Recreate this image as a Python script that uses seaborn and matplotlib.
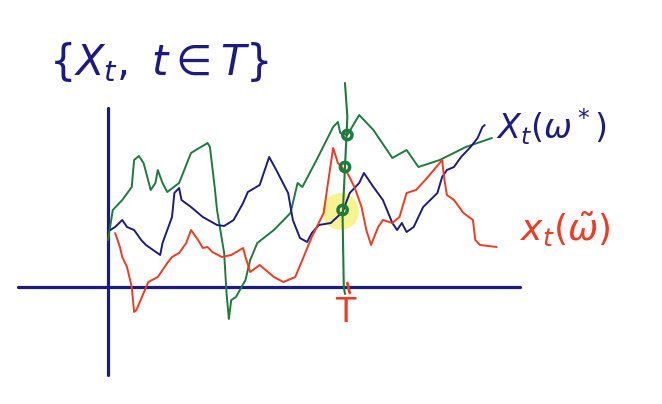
import numpy as np
import pandas as pd
import matplotlib
matplotlib.use("Agg")
import matplotlib.pyplot as plt
import seaborn as sns

# Farben wie in der Skizze
NAVY = "#1c1c80"
GREEN = "#1f7a3c"
RED = "#ee3b24"
YELLOW = "#f6f27e"

green_t = [0.00, 0.02, 0.06, 0.10, 0.11, 0.13, 0.15, 0.18, 0.20, 0.21, 0.23, 0.25,
           0.30, 0.35, 0.42, 0.43, 0.45, 0.46, 0.49, 0.50, 0.51, 0.52, 0.54, 0.58,
           0.60, 0.63, 0.70, 0.77, 0.80, 0.82, 0.88, 0.95, 0.97, 0.98, 1.01, 1.06,
           1.12, 1.20, 1.26, 1.31, 1.40, 1.51, 1.62]
green_x = [0.47, 0.77, 0.87, 1.00, 1.27, 1.31, 1.24, 0.97, 1.04, 1.17, 1.04, 0.95,
           1.04, 1.34, 1.44, 1.40, 1.00, 0.77, 0.34, -0.06, -0.32, -0.13, -0.10, 0.07,
           0.27, 0.44, 0.57, 0.74, 1.04, 1.00, 1.27, 1.60, 1.65, 1.54, 1.52, 1.72,
           1.57, 1.29, 1.37, 1.20, 1.27, 1.40, 1.49]

blue_t = [0.01, 0.03, 0.06, 0.08, 0.11, 0.14, 0.16, 0.19, 0.22, 0.23, 0.25, 0.27,
          0.28, 0.30, 0.31, 0.35, 0.40, 0.46, 0.49, 0.53, 0.57, 0.59, 0.64, 0.68,
          0.71, 0.76, 0.78, 0.81, 0.84, 0.86, 0.89, 0.94, 0.99, 1.02, 1.06, 1.08,
          1.12, 1.16, 1.20, 1.22, 1.24, 1.26, 1.29, 1.33, 1.39, 1.41, 1.43, 1.46,
          1.49, 1.53, 1.56, 1.58, 1.59]
blue_x = [0.57, 0.60, 0.67, 0.60, 0.57, 0.47, 0.42, 0.37, 0.32, 0.44, 0.57, 0.70,
          0.94, 0.99, 0.87, 0.80, 0.70, 0.62, 0.61, 0.67, 0.84, 0.95, 1.02, 1.30,
          1.17, 0.94, 0.67, 0.49, 0.45, 0.54, 0.62, 0.64, 0.75, 0.94, 1.04, 1.14,
          1.00, 0.87, 0.64, 0.57, 0.64, 0.55, 0.60, 0.80, 0.94, 1.10, 1.17, 1.20,
          1.30, 1.40, 1.49, 1.60, 1.62]

red_t = [0.03, 0.05, 0.06, 0.08, 0.10, 0.11, 0.12, 0.15, 0.17, 0.21, 0.25, 0.27,
         0.30, 0.33, 0.35, 0.38, 0.40, 0.42, 0.44, 0.48, 0.52, 0.57, 0.58, 0.60,
         0.64, 0.70, 0.74, 0.79, 0.82, 0.86, 0.91, 0.93, 0.95, 0.97, 1.01, 1.04,
         1.07, 1.09, 1.11, 1.14, 1.16, 1.20, 1.23, 1.26, 1.30, 1.35, 1.41, 1.42,
         1.43, 1.46, 1.50, 1.54, 1.55, 1.57, 1.64]
red_x = [0.54, 0.40, 0.30, 0.20, 0.00, -0.25, -0.23, -0.06, 0.05, 0.10, 0.24, 0.30,
         0.34, 0.44, 0.57, 0.47, 0.39, 0.40, 0.35, 0.30, 0.32, 0.39, 0.30, 0.15,
         0.22, 0.10, 0.05, 0.10, 0.27, 0.50, 0.74, 1.07, 1.39, 1.24, 1.14, 1.00,
         0.80, 0.57, 0.42, 0.60, 0.67, 0.64, 0.70, 0.94, 0.97, 1.10, 1.27, 1.07,
         0.92, 0.87, 0.74, 0.67, 0.47, 0.42, 0.40]

# senkrechte Linie bei t = T
cut_t = [1.00, 1.01, 1.00, 0.99, 0.995, 1.00]
cut_x = [2.04, 1.70, 1.20, 0.70, 0.00, -0.07]
# Werte der drei Pfade bei T
mark_t = [1.01, 1.00, 0.99]
mark_x = [1.52, 1.20, 0.77]

sns.set_style("white")

fig = plt.figure(figsize=(6.62, 4.04), dpi=100)
ax = fig.add_axes([0, 0, 1, 1])

# Achsen
ax.plot([-0.38, 1.74], [0, 0], color=NAVY, lw=2.3, solid_capstyle="round")
ax.plot([0, 0], [1.79, -0.88], color=NAVY, lw=2.3, solid_capstyle="round")

# gelbe Markierung
ax.scatter([0.98], [0.76], s=700, color=YELLOW, alpha=0.85, zorder=1, linewidths=0)

for t, x, c in [(green_t, green_x, GREEN), (blue_t, blue_x, NAVY), (red_t, red_x, RED)]:
    df = pd.DataFrame({"t": t, "x": x})
    sns.lineplot(data=df, x="t", y="x", sort=False, estimator=None,
                 color=c, lw=1.4, ax=ax, zorder=3, solid_joinstyle="round")

sns.lineplot(data=pd.DataFrame({"t": cut_t, "x": cut_x}), x="t", y="x",
             sort=False, estimator=None, color=GREEN, lw=1.5, ax=ax, zorder=4)
ax.scatter(mark_t, mark_x, s=45, facecolor="none", edgecolor=GREEN,
           linewidths=2.5, zorder=5)

ax.set_xlim(-0.456, 2.338)
ax.set_ylim(-1.17, 2.87)
ax.axis("off")

# roter Strich und T
ax.plot([1.01, 1.02], [0.04, -0.06], color=RED, lw=2)
ax.text(1.0, -0.26, "T", color=RED, fontsize=24, ha="center", va="center")

# Beschriftungen
ax.text(0.215, 2.25, r"$\{X_t,\ t\in T\}$", color=NAVY, fontsize=30,
        ha="center", va="center")
ax.text(1.87, 1.60, r"$X_t(\omega^*)$", color=NAVY, fontsize=24,
        ha="center", va="center")
ax.text(1.93, 0.58, r"$x_t(\tilde{\omega})$", color=RED, fontsize=26,
        ha="center", va="center")

fig.savefig("out.png", dpi=100)
